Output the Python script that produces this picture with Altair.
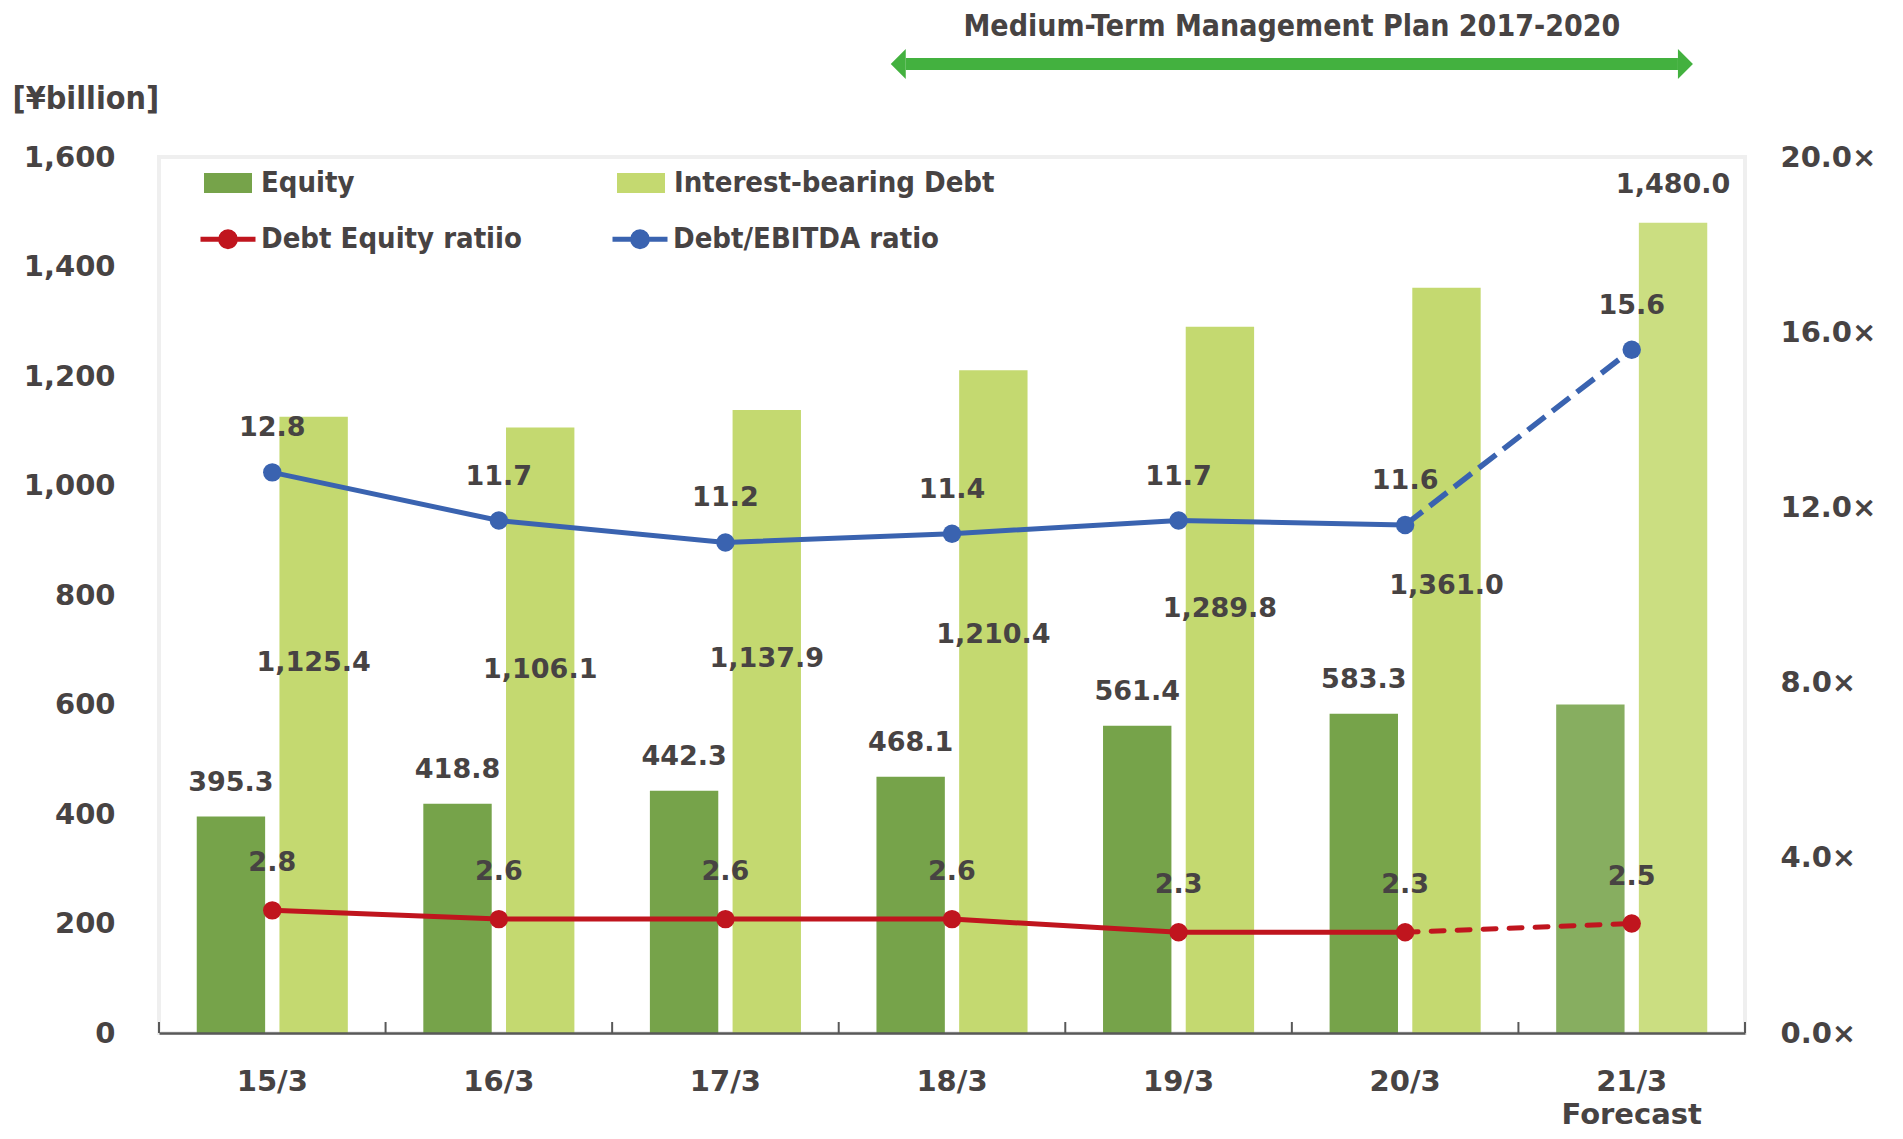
import altair as alt
import pandas as pd

# ---------------- data ----------------
categories = ["15/3", "16/3", "17/3", "18/3", "19/3", "20/3", "21/3"]
forecast_category = "21/3"
plan_span = ["18/3", "21/3"]
bar_series = ["Equity", "Interest-bearing Debt"]
line_series = ["Debt Equity ratiio", "Debt/EBITDA ratio"]
equity = [395.3, 418.8, 442.3, 468.1, 561.4, 583.3, 600.0]
debt = [1125.4, 1106.1, 1137.9, 1210.4, 1289.8, 1361.0, 1480.0]
de_ratio = [2.8, 2.6, 2.6, 2.6, 2.3, 2.3, 2.5]
debt_ebitda = [12.8, 11.7, 11.2, 11.4, 11.7, 11.6, 15.6]
left_ticks = [0, 200, 400, 600, 800, 1000, 1200, 1400, 1600]
right_ticks = [0, 4, 8, 12, 16, 20]
plan_title = "Medium-Term Management Plan 2017-2020"
left_unit = "[¥billion]"
forecast_word = "Forecast"

# ---------------- style ----------------
NUM_FONT = "DejaVu Sans"
TXT_FONT = "DejaVu Sans Condensed, DejaVu Sans"
TXT = "#474343"
EQ_COLOR = "#76A34A"
DEBT_COLOR = "#C4D970"
RED = "#C0151E"
BLUE = "#3A63B0"
GREEN = "#43B13F"
AXIS_GRAY = "#595959"
W, H = 1586, 876
PAD = {"left": 151, "top": 149, "right": 140, "bottom": 98}

# ---------------- tables ----------------
bar_rows = []
for c, e, d in zip(categories, equity, debt):
    bar_rows.append({"cat": c, "series": bar_series[0], "value": e, "fc": c == forecast_category})
    bar_rows.append({"cat": c, "series": bar_series[1], "value": d, "fc": c == forecast_category})
bars_df = pd.DataFrame(bar_rows)

line_rows = []
for c, r1, r2 in zip(categories, de_ratio, debt_ebitda):
    line_rows.append({"cat": c, "series": line_series[0], "value": r1})
    line_rows.append({"cat": c, "series": line_series[1], "value": r2})
lines_df = pd.DataFrame(line_rows)

plan_mid = categories[categories.index(plan_span[1]) - 1]
arrow_df = pd.DataFrame({"start": [plan_span[0]], "end": [plan_span[1]], "mid": [plan_mid]})
tick_df = pd.DataFrame({"cat": categories})

# ---------------- scales / axes ----------------
x_scale = alt.Scale(domain=categories, paddingInner=0, paddingOuter=0)
x_axis = alt.Axis(
    title=None, ticks=False, tickSize=0, grid=False,
    domain=True, domainColor=AXIS_GRAY, domainWidth=2.5,
    labelFont=NUM_FONT, labelFontSize=29, labelFontWeight="bold", labelColor=TXT,
    labelPadding=34, labelAngle=0, labelBaseline="top", labelLineHeight=33,
    labelExpr=f"datum.label == '{forecast_category}' ? ['{forecast_category}', '{forecast_word}'] : datum.label",
    zindex=1,
)


def xenc(field="cat", bp=None):
    kw = dict(scale=x_scale, axis=x_axis, title=None)
    if bp is not None:
        kw["bandPosition"] = bp
    return alt.X(f"{field}:N", **kw)


xoff = alt.XOffset("series:N", scale=alt.Scale(domain=bar_series, paddingInner=0.173, paddingOuter=0.4565))

y_left_scale = alt.Scale(domain=[0, 1600], nice=False, zero=True)
y_left_axis = alt.Axis(
    values=left_ticks, format=",d", title=left_unit, titleAngle=0, titleAlign="left",
    titleBaseline="middle", titleX=-147, titleY=-59, titleFont=TXT_FONT, titleFontSize=32,
    titleFontWeight="bold", titleColor=TXT,
    labelFont=NUM_FONT, labelFontSize=29, labelFontWeight="bold", labelColor=TXT,
    labelPadding=44, ticks=False, tickSize=0, domain=False, grid=False,
)


def yl(field):
    return alt.Y(f"{field}:Q", scale=y_left_scale, axis=y_left_axis)


y_right_scale = alt.Scale(domain=[0, 20], nice=False, zero=True)
y_right_axis = alt.Axis(
    orient="right", values=right_ticks, labelExpr="format(datum.value, '.1f') + '×'",
    title=None, labelFont=NUM_FONT, labelFontSize=29, labelFontWeight="bold", labelColor=TXT,
    labelPadding=35, ticks=False, tickSize=0, domain=False, grid=False,
)


def yr(field):
    return alt.Y(f"{field}:Q", scale=y_right_scale, axis=y_right_axis)


def ring(r):
    return f"M{r},0A{r},{r},0,1,1,{-r},0A{r},{r},0,1,1,{r},0"


LINE_SYMBOL = "M-1,0L1,0" + "".join(ring(r) for r in [0.05, 0.14, 0.23, 0.27])
RECT_SYMBOL = "M-1,-0.42H1V0.42H-1Z"

legend_common = dict(
    title=None, orient="none", direction="horizontal", columns=2,
    labelFont=TXT_FONT, labelFontSize=29, labelFontWeight="bold",
    labelColor=TXT, labelLimit=600, padding=0,
)
bar_legend = alt.Legend(
    legendX=45, legendY=2, columnPadding=262, symbolType=RECT_SYMBOL, symbolSize=2304,
    symbolStrokeWidth=0, labelOffset=9, **legend_common
)
line_legend = alt.Legend(
    legendX=39, legendY=52, columnPadding=80, symbolType=LINE_SYMBOL, symbolSize=3025,
    symbolStrokeWidth=5, labelOffset=3, **legend_common
)

num_text = dict(font=NUM_FONT, fontSize=27, fontWeight="bold", color=TXT, align="center", baseline="middle")

# ---------------- bars (left axis) ----------------
bars = alt.Chart(bars_df).mark_bar().encode(
    x=xenc(), xOffset=xoff, y=yl("value"),
    color=alt.Color("series:N", scale=alt.Scale(domain=bar_series, range=[EQ_COLOR, DEBT_COLOR]), legend=bar_legend),
    opacity=alt.condition("datum.fc", alt.value(0.88), alt.value(1.0)),
)
eq_labels = alt.Chart(bars_df).transform_filter(
    f"datum.series == '{bar_series[0]}' && !datum.fc"
).mark_text(dy=-34, **num_text).encode(
    x=xenc(), xOffset=xoff, y=yl("value"), text=alt.Text("value:Q", format=",.1f")
)
debt_labels = alt.Chart(bars_df).transform_filter(
    f"datum.series == '{bar_series[1]}' && !datum.fc"
).transform_calculate(label_y="datum.value * 0.6").mark_text(**num_text).encode(
    x=xenc(), xOffset=xoff, y=yl("label_y"), text=alt.Text("value:Q", format=",.1f")
)
debt_fc_label = alt.Chart(bars_df).transform_filter(
    f"datum.series == '{bar_series[1]}' && datum.fc"
).mark_text(dy=-38, **num_text).encode(
    x=xenc(), xOffset=xoff, y=yl("value"), text=alt.Text("value:Q", format=",.1f")
)
left_group = alt.layer(bars, eq_labels, debt_labels, debt_fc_label)

# ---------------- lines (right axis) ----------------
actual = alt.Chart(lines_df).transform_filter(f"datum.cat != '{forecast_category}'")
solid = actual.mark_line(strokeWidth=5).encode(
    x=xenc(), y=yr("value"),
    stroke=alt.Stroke("series:N", scale=alt.Scale(domain=line_series, range=[RED, BLUE]), legend=line_legend),
)
last_two = alt.Chart(lines_df).transform_filter(alt.FieldOneOfPredicate(field="cat", oneOf=categories[-2:]))
dashed_red = last_two.transform_filter(f"datum.series == '{line_series[0]}'").mark_line(
    strokeWidth=5, strokeDash=[13, 13], strokeCap="round", color=RED
).encode(x=xenc(), y=yr("value"))
dashed_blue = last_two.transform_filter(f"datum.series == '{line_series[1]}'").mark_line(
    strokeWidth=5.5, strokeDash=[22, 9], color=BLUE
).encode(x=xenc(), y=yr("value"))
points = alt.Chart(lines_df).mark_circle(size=340, opacity=1).encode(
    x=xenc(), y=yr("value"),
    fill=alt.Fill("series:N", scale=alt.Scale(domain=line_series, range=[RED, BLUE]), legend=None),
)
de_labels = alt.Chart(lines_df).transform_filter(f"datum.series == '{line_series[0]}'").mark_text(
    dy=-47, **num_text
).encode(x=xenc(), y=yr("value"), text=alt.Text("value:Q", format=".1f"))
eb_labels = alt.Chart(lines_df).transform_filter(f"datum.series == '{line_series[1]}'").mark_text(
    dy=-44, **num_text
).encode(x=xenc(), y=yr("value"), text=alt.Text("value:Q", format=".1f"))
right_group = alt.layer(solid, dashed_red, dashed_blue, points, de_labels, eb_labels)

# ---------------- axis ticks (inward) ----------------
ticks_a = alt.Chart(tick_df).mark_rule(color=AXIS_GRAY, strokeWidth=2).encode(
    x=xenc(bp=0), y=alt.value(H), y2=alt.value(H - 11)
)
ticks_b = alt.Chart(tick_df.tail(1)).mark_rule(color=AXIS_GRAY, strokeWidth=2).encode(
    x=xenc(bp=1), y=alt.value(H), y2=alt.value(H - 11)
)

# ---------------- plan arrow ----------------
shaft = alt.Chart(arrow_df).mark_rule(color=GREEN, strokeWidth=12).encode(
    x=xenc("start", bp=0.296), x2=alt.X2("end:N", bandPosition=0.704), y=alt.value(-93)
)
head_l = alt.Chart(arrow_df).mark_point(
    shape="M-1,0L0,-1L0,1Z", size=900, filled=True, opacity=1, color=GREEN, strokeWidth=0
).encode(x=xenc("start", bp=0.296), y=alt.value(-93))
head_r = alt.Chart(arrow_df).mark_point(
    shape="M1,0L0,-1L0,1Z", size=900, filled=True, opacity=1, color=GREEN, strokeWidth=0
).encode(x=xenc("end", bp=0.704), y=alt.value(-93))
plan_text = alt.Chart(arrow_df).mark_text(
    text=plan_title, font=TXT_FONT, fontSize=30, fontWeight="bold", color=TXT,
    align="center", baseline="middle"
).encode(x=xenc("mid", bp=0), y=alt.value(-130))

chart = alt.layer(
    left_group, right_group, ticks_a, ticks_b, shaft, head_l, head_r, plan_text
).resolve_scale(y="independent").properties(
    width=W, height=H, padding=PAD, autosize=alt.AutoSizeParams(type="none"),
    background="white",
).configure_view(stroke="#EFEFEF", strokeWidth=4)

chart.save("out.html", embed_options={"renderer": "svg", "actions": False})
